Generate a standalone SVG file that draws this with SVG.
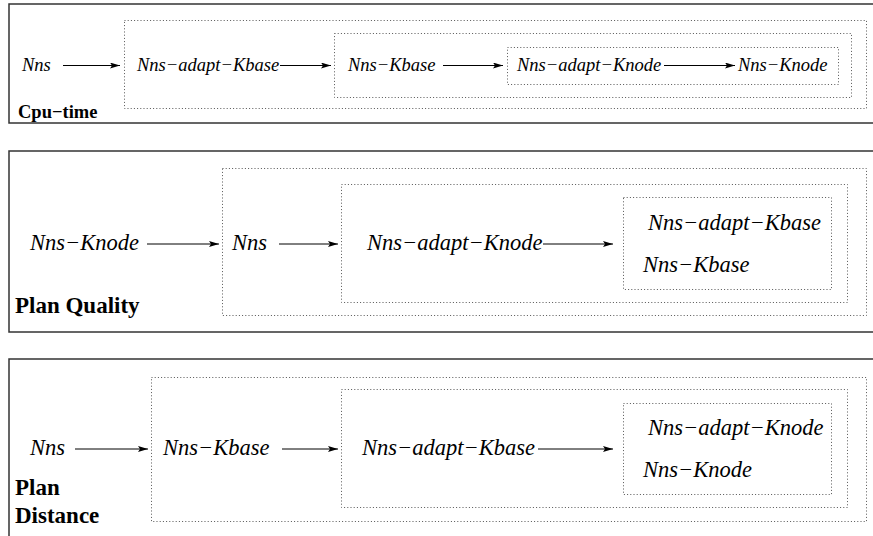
<svg xmlns="http://www.w3.org/2000/svg" width="873" height="536" viewBox="0 0 873 536" font-family="'Liberation Serif', 'Times New Roman', serif">
  <style>
    .frame { fill: none; stroke: #333; stroke-width: 1.5; }
    .dots { fill: none; stroke: #555; stroke-width: 1; stroke-dasharray: 1 2.2; }
    .edge { fill: none; stroke: #000; stroke-width: 1; }
    .n1 { font-style: italic; font-size: 18.5px; fill: #000; }
    .n2 { font-style: italic; font-size: 22.5px; fill: #000; }
    .lbl1 { font-weight: bold; font-size: 18.5px; fill: #000; }
    .lbl2 { font-weight: bold; font-size: 23px; fill: #000; }
  </style>
  <defs>
    <marker id="head" markerUnits="userSpaceOnUse" markerWidth="12" markerHeight="8" refX="10" refY="3" orient="auto">
      <path d="M0,0 L10,3 L0,6 L2,3 z" fill="#000"/>
    </marker>
  </defs>
  <rect width="873" height="536" fill="#fff"/>

  <!-- Panel 1: Cpu-time -->
  <g id="panel-cpu">
    <rect class="frame" x="9" y="4" width="880" height="119"/>
    <rect class="dots" x="124.5" y="20.5" width="742" height="88"/>
    <rect class="dots" x="334.5" y="33.5" width="517" height="64"/>
    <rect class="dots" x="507.5" y="47.5" width="331" height="37"/>
    <text class="lbl1" font-family="Liberation Serif" x="18" y="118">Cpu−time</text>
  </g>
  <g id="cpu-nns"><text class="n1" font-family="Liberation Serif" x="22" y="71">Nns</text></g>
  <g id="cpu-adapt-kbase"><text class="n1" font-family="Liberation Serif" x="137" y="71">Nns−adapt−Kbase</text></g>
  <g id="cpu-kbase"><text class="n1" font-family="Liberation Serif" x="348" y="71">Nns−Kbase</text></g>
  <g id="cpu-adapt-knode"><text class="n1" font-family="Liberation Serif" x="517" y="71">Nns−adapt−Knode</text></g>
  <g id="cpu-knode"><text class="n1" font-family="Liberation Serif" x="738" y="71">Nns−Knode</text></g>

  <!-- Panel 2: Plan Quality -->
  <g id="panel-quality">
    <rect class="frame" x="9" y="151" width="880" height="181"/>
    <rect class="dots" x="222.5" y="168.5" width="644" height="147"/>
    <rect class="dots" x="341.5" y="184.5" width="506" height="118"/>
    <rect class="dots" x="623.5" y="197.5" width="208" height="92"/>
    <text class="lbl2" font-family="Liberation Serif" x="15" y="313">Plan Quality</text>
  </g>
  <g id="pq-knode"><text class="n2" font-family="Liberation Serif" x="30" y="250">Nns−Knode</text></g>
  <g id="pq-nns"><text class="n2" font-family="Liberation Serif" x="232" y="250">Nns</text></g>
  <g id="pq-adapt-knode"><text class="n2" font-family="Liberation Serif" x="367" y="250">Nns−adapt−Knode</text></g>
  <g id="pq-adapt-kbase"><text class="n2" font-family="Liberation Serif" x="648" y="230">Nns−adapt−Kbase</text></g>
  <g id="pq-kbase"><text class="n2" font-family="Liberation Serif" x="643" y="272">Nns−Kbase</text></g>

  <!-- Panel 3: Plan Distance -->
  <g id="panel-distance">
    <rect class="frame" x="9" y="359" width="880" height="200"/>
    <rect class="dots" x="151.5" y="377.5" width="715" height="144"/>
    <rect class="dots" x="341.5" y="389.5" width="506" height="118"/>
    <rect class="dots" x="623.5" y="403.5" width="208" height="91"/>
    <text class="lbl2" font-family="Liberation Serif" x="15" y="495">Plan</text>
    <text class="lbl2" font-family="Liberation Serif" x="15" y="523">Distance</text>
  </g>
  <g id="pd-nns"><text class="n2" font-family="Liberation Serif" x="30" y="455">Nns</text></g>
  <g id="pd-kbase"><text class="n2" font-family="Liberation Serif" x="163" y="455">Nns−Kbase</text></g>
  <g id="pd-adapt-kbase"><text class="n2" font-family="Liberation Serif" x="362" y="455">Nns−adapt−Kbase</text></g>
  <g id="pd-adapt-knode"><text class="n2" font-family="Liberation Serif" x="648" y="435">Nns−adapt−Knode</text></g>
  <g id="pd-knode"><text class="n2" font-family="Liberation Serif" x="643" y="477">Nns−Knode</text></g>

  <!-- Connectors -->
  <g id="connectors">
    <line class="edge" x1="63" y1="65.5" x2="120" y2="65.5" marker-end="url(#head)"/>
    <line class="edge" x1="280" y1="65.5" x2="331" y2="65.5" marker-end="url(#head)"/>
    <line class="edge" x1="443" y1="65.5" x2="503" y2="65.5" marker-end="url(#head)"/>
    <line class="edge" x1="664" y1="65.5" x2="735" y2="65.5" marker-end="url(#head)"/>

    <line class="edge" x1="147" y1="244" x2="219" y2="244" marker-end="url(#head)"/>
    <line class="edge" x1="279" y1="244" x2="338" y2="244" marker-end="url(#head)"/>
    <line class="edge" x1="543" y1="244" x2="613" y2="244" marker-end="url(#head)"/>

    <line class="edge" x1="75" y1="449" x2="148" y2="449" marker-end="url(#head)"/>
    <line class="edge" x1="282" y1="449" x2="338" y2="449" marker-end="url(#head)"/>
    <line class="edge" x1="538" y1="449" x2="613" y2="449" marker-end="url(#head)"/>
  </g>
</svg>
